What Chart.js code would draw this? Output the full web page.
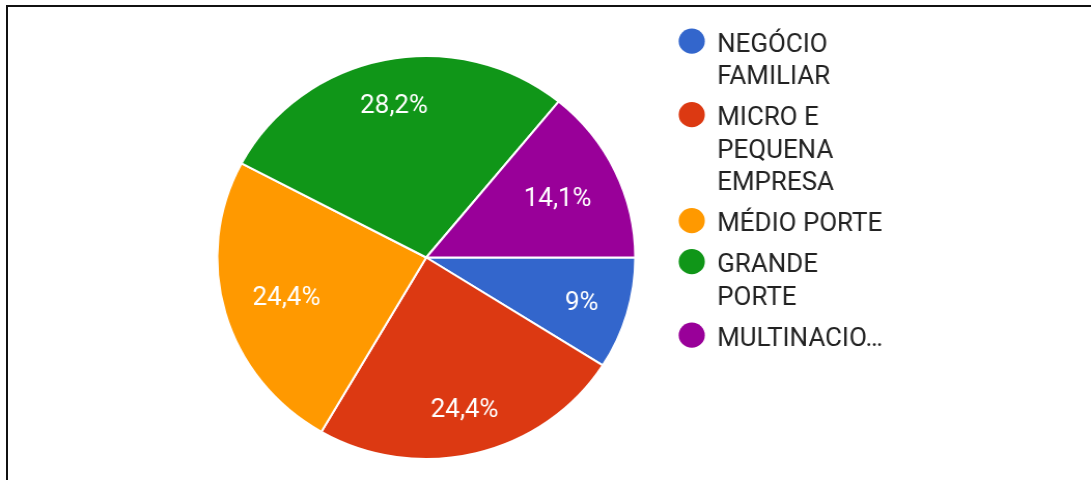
<!DOCTYPE html>
<html>
<head>
<meta charset="utf-8">
<script src="https://cdn.jsdelivr.net/npm/chart.js@4.4.1/dist/chart.umd.min.js"></script>
<style>
  html, body { margin: 0; padding: 0; background: #fff; }
  #wrap { position: relative; width: 1091px; height: 480px; overflow: hidden; }
  #frame { position: absolute; left: 6px; top: 5px; right: -10px; bottom: -10px;
           border-top: 2px solid #111; border-left: 2px solid #111; pointer-events: none; }
  /* the drawing is slightly wider than tall */
  #stretch { position: absolute; left: 0; top: 0; width: 1052px; height: 480px;
             transform: scaleX(1.0371); transform-origin: 0 0; }
</style>
</head>
<body>
<div id="wrap">
  <div id="stretch"><canvas id="chart" width="1052" height="480"></canvas></div>
  <div id="frame"></div>
</div>
<script>
// Company size categories and their share (%)
const categories = ['NEGÓCIO FAMILIAR', 'MICRO E PEQUENA EMPRESA', 'MÉDIO PORTE', 'GRANDE PORTE', 'MULTINACIO…'];
const shares = [9, 24.4, 24.4, 28.2, 14.1];
const colors = ['#3366cc', '#dc3912', '#ff9900', '#109618', '#990099'];

const FONT = 'Roboto, "Noto Sans", sans-serif';

function fmtPct(v) {
  return String(v).replace('.', ',') + '%';
}

// Percent labels inside each slice: the label box is pushed in from the rim
// along the slice bisector by its own extent in that direction
const sliceLabels = {
  id: 'sliceLabels',
  afterDatasetsDraw(chart) {
    const ctx = chart.ctx;
    const meta = chart.getDatasetMeta(0);
    const size = 25;
    const cap = size * 0.711;
    ctx.save();
    ctx.font = size + 'px ' + FONT;
    ctx.fillStyle = '#ffffff';
    ctx.textAlign = 'center';
    ctx.textBaseline = 'alphabetic';
    meta.data.forEach((arc, i) => {
      const p = arc.getProps(['x', 'y', 'startAngle', 'endAngle', 'outerRadius'], true);
      const mid = (p.startAngle + p.endAngle) / 2;
      const txt = fmtPct(shares[i]);
      const hw = ctx.measureText(txt).width / 2;
      const hh = 12;
      const c = Math.cos(mid), s = Math.sin(mid);
      const r = p.outerRadius * 0.868 - (hw * Math.abs(c) + hh * Math.abs(s));
      ctx.fillText(txt, p.x + c * r, p.y + s * r + cap / 2);
    });
    ctx.restore();
  }
};

// Wrap a label to a maximum line width
function wrap(ctx, text, maxW) {
  const words = text.split(' ');
  const lines = [];
  let cur = '';
  words.forEach(w => {
    const test = cur ? cur + ' ' + w : w;
    if (cur && ctx.measureText(test).width > maxW) {
      lines.push(cur);
      cur = w;
    } else {
      cur = test;
    }
  });
  if (cur) lines.push(cur);
  return lines;
}

// Legend on the right: round markers with wrapped text
const sideLegend = {
  id: 'sideLegend',
  afterDraw(chart) {
    const ctx = chart.ctx;
    ctx.save();
    ctx.font = '25px ' + FONT;
    ctx.textAlign = 'left';
    ctx.textBaseline = 'alphabetic';
    const textX = 691.5, dotX = 667, dotR = 12.6;
    const lineH = 32.5, itemGap = 41;
    let base = 51.7;
    categories.forEach((c, i) => {
      const lines = wrap(ctx, c, 168);
      ctx.fillStyle = colors[i];
      ctx.beginPath();
      ctx.arc(dotX, base - 10.5, dotR, 0, Math.PI * 2);
      ctx.fill();
      ctx.fillStyle = '#222222';
      lines.forEach((ln, k) => {
        ctx.fillText(ln, textX, base + k * lineH);
      });
      base += (lines.length - 1) * lineH + itemGap;
    });
    ctx.restore();
  }
};

new Chart(document.getElementById('chart'), {
  type: 'pie',
  data: {
    labels: categories,
    datasets: [{
      data: shares,
      backgroundColor: colors,
      borderColor: '#ffffff',
      borderWidth: 2
    }]
  },
  options: {
    responsive: false,
    animation: false,
    rotation: 90,
    layout: { padding: { left: 208.5, right: 438.5, top: 55, bottom: 20 } },
    plugins: {
      legend: { display: false },
      tooltip: { enabled: false }
    }
  },
  plugins: [sliceLabels, sideLegend]
});
</script>
</body>
</html>
